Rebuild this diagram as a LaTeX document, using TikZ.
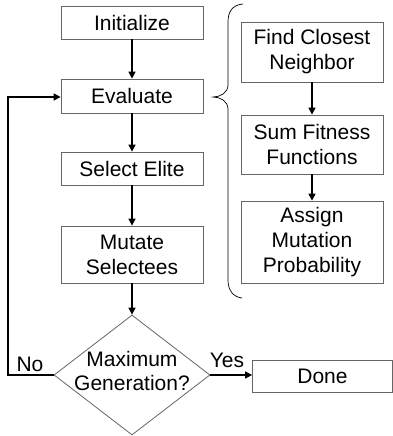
\documentclass[tikz,border=0pt]{standalone}
\usepackage{fontspec}
\setmainfont{Liberation Sans}
\usetikzlibrary{shapes.geometric,arrows.meta}
\begin{document}
\begin{tikzpicture}[x=1pt,y=-1pt,
  box/.style={draw=black!60,line width=0.8pt,rectangle,minimum width=142pt,inner sep=0pt,align=center,font=\fontsize{21}{25}\selectfont},
  lbl/.style={font=\fontsize{21}{24}\selectfont,inner sep=0pt},
  arr/.style={line width=1.5pt,-{Triangle[length=7pt,width=7pt]}},
  ln/.style={line width=1.5pt}]
\useasboundingbox (0,0) rectangle (393,436);
\fill[white] (0,0) rectangle (393,436);
\node[box,minimum height=33pt] (init) at (132,22.5) {Initialize};
\node[box,minimum height=34pt] (eval) at (132,96) {Evaluate};
\node[box,minimum height=33pt] (sel) at (132,168.5) {Select Elite};
\node[box,minimum height=57pt] (mut) at (132,254.5) {Mutate\\Selectees};
\node[draw=black!60,line width=0.8pt,diamond,minimum width=156pt,minimum height=120pt,inner sep=0pt] (dec) at (132,375) {};
\node[lbl,align=center] (dectext) at (132,371) {Maximum\\Generation?};
\node[box,minimum width=140pt,minimum height=32pt] (done) at (322.5,376) {Done};
\node[box,minimum height=60pt] (find) at (312,52) {Find Closest\\Neighbor};
\node[box,minimum height=59pt] (sum) at (312,144.5) {Sum Fitness\\Functions};
\node[box,minimum height=82pt] (assign) at (312,242) {Assign\\Mutation\\Probability};
\coordinate (lb) at (8,375);
\coordinate (lt) at (8,97);
\node[lbl] (no) at (30,364) {No};
\node[lbl] (yes) at (227,360) {Yes};
\draw[arr] (init) -- (eval);
\draw[arr] (eval) -- (sel);
\draw[arr] (sel) -- (mut);
\draw[arr] (mut) -- (dec.north);
\draw[arr] (dec.east) -- (dec.east -| done.west);
\draw[arr] (dec.west) -- (lb) -- (lt) -- (lt -| eval.west);
\draw[arr] (find) -- (sum);
\draw[arr] (sum) -- (assign);
\draw[line width=0.7pt] (243,4) .. controls (232,5) and (228,12) .. (228,22) -- (228,85) .. controls (228,93) and (220,97) .. (213,97) .. controls (220,97) and (228,101) .. (228,109) -- (228,280) .. controls (228,290) and (233,297) .. (242,298);
\end{tikzpicture}
\end{document}
